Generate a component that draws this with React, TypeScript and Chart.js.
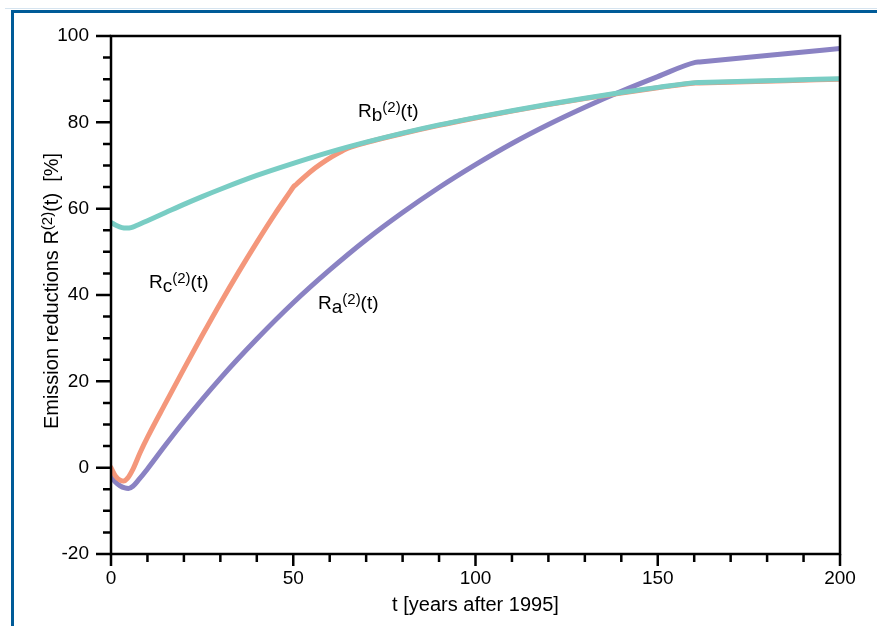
import React, { useEffect, useRef } from "react";
import { Chart, registerables } from "chart.js";

Chart.register(...registerables);

// Time axis values (years after 1995) and series values (%)
const tA = [0, 1.2, 2.5, 3.8, 4.8, 6, 7.5, 10, 15, 20, 30, 40, 50, 60, 70, 80, 90, 100, 110, 120, 130, 140, 150, 160.3, 161.5, 185, 200];
const vA = [-2.1, -3.3, -4.2, -4.7, -4.8, -4.3, -2.9, -0.3, 5.3, 10.7, 20.7, 29.8, 38.2, 45.8, 52.8, 59.1, 64.9, 70.2, 75.1, 79.5, 83.5, 87.2, 90.6, 93.9, 94.0, 95.9, 97.1];

const tB = [0, 1.5, 3, 4.3, 5.5, 7, 10, 15, 20, 25, 30, 40, 50, 60, 70, 80, 90, 100, 110, 120, 130, 140, 150, 160.3, 161.5, 185, 200];
const vB = [56.8, 56.1, 55.6, 55.5, 55.6, 56.1, 57.2, 59.1, 61.0, 62.8, 64.5, 67.7, 70.5, 73.1, 75.4, 77.5, 79.4, 81.1, 82.7, 84.2, 85.6, 86.9, 88.1, 89.2, 89.23, 89.76, 90.1];

const tC = [0, 1.2, 2.5, 3.5, 4.5, 6, 8, 10, 15, 20, 25, 30, 35, 40, 45, 49.2, 50, 50.8, 53, 56, 59, 62, 65, 70, 80, 90, 100, 110, 120, 130, 140, 150, 160.3, 161.5, 185, 200];
const vC = [0, -1.9, -2.9, -3.1, -2.5, -0.4, 3.5, 7.0, 15.0, 22.9, 30.6, 38.1, 45.3, 52.2, 58.8, 64.0, 65.0, 65.6, 67.3, 69.4, 71.2, 72.7, 74.0, 75.3, 77.4, 79.3, 81.0, 82.6, 84.1, 85.5, 86.8, 88.0, 89.1, 89.13, 89.66, 90.0];

const xTicks = [0, 50, 100, 150, 200];
const yTicks = [-20, 0, 20, 40, 60, 80, 100];

const FONT = '"Liberation Sans", Arial, Helvetica, sans-serif';

type Part = { t: string; size: number; dy: number };

function drawRich(ctx: CanvasRenderingContext2D, x: number, y: number, parts: Part[], align: "left" | "center" = "left") {
  ctx.save();
  ctx.textBaseline = "alphabetic";
  ctx.textAlign = "left";
  ctx.fillStyle = "#000";
  let total = 0;
  for (const p of parts) {
    ctx.font = `${p.size}px ${FONT}`;
    total += ctx.measureText(p.t).width;
  }
  let cx = align === "center" ? x - total / 2 : x;
  for (const p of parts) {
    ctx.font = `${p.size}px ${FONT}`;
    ctx.fillText(p.t, cx, y + p.dy);
    cx += ctx.measureText(p.t).width;
  }
  ctx.restore();
}

const labelParts = (sub: string): Part[] => [
  { t: "R", size: 19, dy: 0 },
  { t: sub, size: 19, dy: 4 },
  { t: "(2)", size: 15, dy: -5 },
  { t: "(t)", size: 19, dy: 0 },
];

const decorPlugin = {
  id: "decor",
  beforeDraw(chart: any) {
    const ctx = chart.ctx as CanvasRenderingContext2D;
    ctx.save();
    ctx.fillStyle = "#fff";
    ctx.fillRect(0, 0, chart.width, chart.height);
    ctx.strokeStyle = "#d6e4ef";
    ctx.lineWidth = 1;
    ctx.beginPath();
    ctx.moveTo(5, 8.5);
    ctx.lineTo(chart.width, 8.5);
    ctx.stroke();
    ctx.strokeStyle = "#005b98";
    ctx.lineWidth = 3;
    ctx.beginPath();
    ctx.moveTo(chart.width, 11.5);
    ctx.lineTo(11, 11.5);
    ctx.moveTo(12.5, 10);
    ctx.lineTo(12.5, chart.height);
    ctx.stroke();
    ctx.restore();
  },
  afterDatasetsDraw(chart: any) {
    const ctx = chart.ctx as CanvasRenderingContext2D;
    const { left, right, top, bottom } = chart.chartArea;
    const xs = chart.scales.x;
    const ys = chart.scales.y;
    ctx.save();
    ctx.strokeStyle = "#000";
    ctx.lineWidth = 2.5;
    ctx.lineCap = "butt";
    ctx.beginPath();
    for (let v = 0; v <= 200; v += 10) {
      const px = xs.getPixelForValue(v);
      const len = v % 50 === 0 ? 12 : 8;
      ctx.moveTo(px, bottom);
      ctx.lineTo(px, bottom + len);
    }
    for (let v = -20; v <= 100; v += 5) {
      const py = ys.getPixelForValue(v);
      const len = v % 20 === 0 ? 15 : 8;
      ctx.moveTo(left, py);
      ctx.lineTo(left - len, py);
    }
    ctx.stroke();
    ctx.lineCap = "square";
    ctx.strokeRect(left, top, right - left, bottom - top);
    ctx.restore();

    // series labels
    drawRich(ctx, 358, 117, labelParts("b"));
    drawRich(ctx, 149, 288, labelParts("c"));
    drawRich(ctx, 318, 309, labelParts("a"));

    // x title
    drawRich(ctx, (left + right) / 2, 611, [{ t: "t [years after 1995]", size: 20, dy: 0 }], "center");

    // y title
    ctx.save();
    ctx.translate(58, 291);
    ctx.rotate(-Math.PI / 2);
    drawRich(
      ctx,
      0,
      0,
      [
        { t: "Emission reductions R", size: 20, dy: 0 },
        { t: "(2)", size: 15, dy: -6 },
        { t: "(t)", size: 20, dy: 0 },
        { t: "  [%]", size: 20, dy: 0 },
      ],
      "center"
    );
    ctx.restore();
  },
};

export default function App() {
  const ref = useRef<HTMLCanvasElement | null>(null);
  useEffect(() => {
    if (!ref.current) return;
    const mk = (ts: number[], vs: number[]) => ts.map((t, i) => ({ x: t, y: vs[i] }));
    const common = {
      borderWidth: 5,
      pointRadius: 0,
      fill: false,
      cubicInterpolationMode: "monotone" as const,
      borderCapStyle: "round" as const,
      borderJoinStyle: "round" as const,
      clip: 0,
    };
    const chart = new Chart(ref.current, {
      type: "line",
      data: {
        datasets: [
          { ...common, label: "Rb", data: mk(tB, vB), borderColor: "#79cdc4" },
          { ...common, label: "Rc", data: mk(tC, vC), borderColor: "#f4977b" },
          { ...common, label: "Ra", data: mk(tA, vA), borderColor: "#8a82c3" },
        ],
      },
      options: {
        animation: false,
        responsive: false,
        maintainAspectRatio: false,
        layout: { padding: { left: 0, right: 37, top: 36, bottom: 0 } },
        plugins: { legend: { display: false }, tooltip: { enabled: false } },
        events: [],
        scales: {
          x: {
            type: "linear",
            min: 0,
            max: 200,
            afterFit: (s: any) => {
              s.height = 72;
            },
            afterBuildTicks: (s: any) => {
              s.ticks = xTicks.map((v) => ({ value: v }));
            },
            border: { display: false },
            grid: { display: true, drawOnChartArea: false, drawTicks: true, tickLength: 12, color: "rgba(0,0,0,0)", tickColor: "rgba(0,0,0,0)" },
            ticks: { color: "#000", font: { size: 19, family: FONT }, padding: 1, maxRotation: 0, autoSkip: false },
          },
          y: {
            type: "linear",
            min: -20,
            max: 100,
            afterFit: (s: any) => {
              s.width = 111;
            },
            afterBuildTicks: (s: any) => {
              s.ticks = yTicks.map((v) => ({ value: v }));
            },
            border: { display: false },
            grid: { display: true, drawOnChartArea: false, drawTicks: true, tickLength: 15, color: "rgba(0,0,0,0)", tickColor: "rgba(0,0,0,0)" },
            ticks: { color: "#000", font: { size: 19, family: FONT }, padding: 7, autoSkip: false },
          },
        },
      },
      plugins: [decorPlugin],
    });
    return () => chart.destroy();
  }, []);
  return (
    <div style={{ position: "absolute", left: 0, top: 0, width: 877, height: 626 }}>
      <canvas ref={ref} width={877} height={626} style={{ width: 877, height: 626, display: "block" }} />
    </div>
  );
}
